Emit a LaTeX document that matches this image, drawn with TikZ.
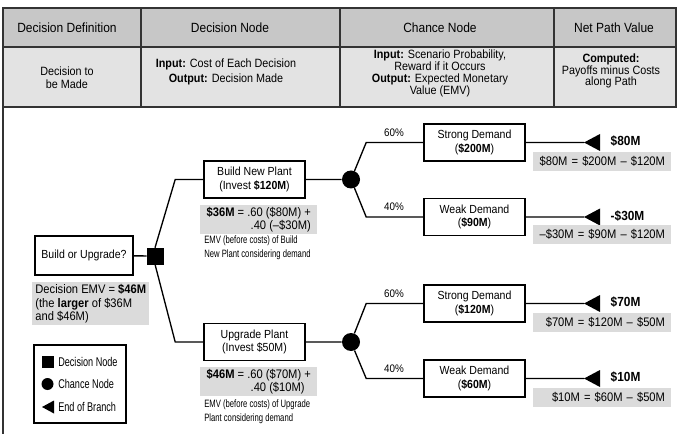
\documentclass[tikz,border=0pt]{standalone}
\usepackage{fontspec}
\setmainfont[FakeStretch=0.9]{Liberation Sans}
\newfontfamily\narrowfont[FakeStretch=0.72]{Liberation Sans}
\usepackage{tikz}
\usetikzlibrary{positioning,calc}
\definecolor{headgray}{gray}{0.78}
\definecolor{rowgray}{gray}{0.89}
\definecolor{boxgray}{gray}{0.86}
\definecolor{rulegray}{gray}{0.2}
\tikzset{
every node/.style={font=\fontsize{8.8}{10.4}\selectfont}, % default text of the tree
headcell/.style={font=\fontsize{10}{12}\selectfont},
infocell/.style={align=center, font=\fontsize{9}{9}\selectfont},
choice/.style={draw, line width=1.2pt, fill=white, minimum width=75.75pt, minimum height=27.75pt, align=center, inner sep=1pt},
decision/.style={draw, fill=black, minimum size=12pt, inner sep=0pt},
chance/.style={circle, fill=black, minimum size=13.5pt, inner sep=0pt},
emv/.style={fill=boxgray, anchor=north west, align=left, inner sep=1.5pt, font=\fontsize{9.3}{10}\selectfont},
payoff/.style={fill=boxgray, text width=94.5pt, align=right, inner xsep=4.5pt, inner ysep=0pt, minimum height=14.25pt, font=\fontsize{9.3}{10}\selectfont},
note/.style={anchor=north west, align=left, inner sep=0pt, font=\narrowfont\fontsize{8}{10.5}\selectfont},
prob/.style={font=\fontsize{8.2}{9}\selectfont},
net/.style={anchor=west, font=\bfseries\fontsize{9.9}{10}\selectfont},
keytext/.style={anchor=west, inner sep=0pt, font=\narrowfont\fontsize{9.5}{10}\selectfont},
tree/.style={line width=1pt},
}

\begin{document}
\begin{tikzpicture}[x=0.75pt, y=-0.75pt]
        \useasboundingbox (0,0) rectangle (677,434);
        % table on top
        \fill[headgray] (3,8) rectangle (676,47);
        \fill[rowgray] (3,47) rectangle (676,107);
        \draw[rulegray, line width=1.3pt] (3,8) rectangle (676,107)
        (3,47) -- (676,47) (141,8) -- (141,107) (340,8) -- (340,107) (554,8) -- (554,107);
        \draw[rulegray, line width=1pt] (3,107) -- (3,434);
        \node[headcell] (h1) at (67,28) {Decision Definition};
        \node[headcell] (h2) at (230,28) {Decision Node};
        \node[headcell] (h3) at (440,28) {Chance Node};
        \node[headcell] (h4) at (614,28) {Net Path Value};
        \node[infocell, font=\fontsize{9}{9.8}\selectfont] (r1) at (67,78) {Decision to\\be Made};
        \node[infocell, font=\fontsize{9}{11.2}\selectfont] (r2) at (226,71.5) {\textbf{Input:} Cost of Each Decision\\\textbf{Output:} Decision Made};
        \node[infocell] (r3) at (440,73) {\textbf{Input:} Scenario Probability,\\Reward if it Occurs\\\textbf{Output:} Expected Monetary\\Value (EMV)};
        \node[infocell, font=\fontsize{9}{8.6}\selectfont] (r4) at (611,71) {\textbf{Computed:}\\Payoffs minus Costs\\along Path};

        % the tree
        \node[choice, minimum width=73.5pt, minimum height=29.25pt] (q) at (84,255.5) {Build or Upgrade?};
        \node[decision] (d) at (155,256) {};
        \node[choice] (b) at (254.5,179.5) {Build New Plant\\(Invest \textbf{\$120M})};
        \node[choice] (u) at (254.5,342) {Upgrade Plant\\(Invest \$50M)};
        \node[chance] (c1) at (351,179.5) {};
        \node[chance] (c2) at (351,342) {};
        \node[choice] (s1) at (474.5,142.5) {Strong Demand\\(\textbf{\$200M})};
        \node[choice] (w1) at (474.5,217) {Weak Demand\\(\textbf{\$90M})};
        \node[choice] (s2) at (474.5,303.5) {Strong Demand\\(\textbf{\$120M})};
        \node[choice] (w2) at (474.5,378.5) {Weak Demand\\(\textbf{\$60M})};
        \coordinate (e1) at (584,142.5);
        \coordinate (e2) at (584,217);
        \coordinate (e3) at (584,303.5);
        \coordinate (e4) at (584,378.5);
        \draw[tree]
        (q) -- (d)
        (d.north) -- ([xshift=-21pt]b.west) -- (b)
        (d.south) -- ([xshift=-21pt]u.west) -- (u)
        (b) -- (c1) (u) -- (c2)
        (c1) -- ([xshift=-42.75pt]s1.west) -- (s1)
        (c1) -- ([xshift=-42.75pt]w1.west) -- (w1)
        (c2) -- ([xshift=-42.75pt]s2.west) -- (s2)
        (c2) -- ([xshift=-42.75pt]w2.west) -- (w2)
        (s1) -- (e1) (w1) -- (e2) (s2) -- (e3) (w2) -- (e4)
        ;
        \foreach \e in {e1,e2,e3,e4}
          \fill (\e) -- +(16,-8.5) -- +(16,8.5) -- cycle;

        \node[prob] (p1) at (394,133) {60\%};
        \node[prob] (p2) at (394,207) {40\%};
        \node[prob] (p3) at (394,294) {60\%};
        \node[prob] (p4) at (394,369) {40\%};

        \node[net] (v1) at (606,141) {\$80M};
        \node[net] (v2) at (606,216) {-\$30M};
        \node[net] (v3) at (606,302) {\$70M};
        \node[net] (v4) at (606,377) {\$10M};
        \node[payoff] (g1) at (602,161.5) {\$80M = \$200M -- \$120M};
        \node[payoff] (g2) at (602,234.5) {--\$30M = \$90M -- \$120M};
        \node[payoff] (g3) at (602,322.5) {\$70M = \$120M -- \$50M};
        \node[payoff] (g4) at (602,397.5) {\$10M = \$60M -- \$50M};

        \node[emv, minimum width=87.75pt, minimum height=21pt] (m1) at (200,205) {\textbf{\$36M} = .60 (\$80M) +\\\hspace*{33pt}.40 (--\$30M)};
        \node[emv, minimum width=87.75pt, minimum height=21pt] (m2) at (200,367) {\textbf{\$46M} = .60 (\$70M) +\\\hspace*{33pt}.40 (\$10M)};
        \node[note] (n1) at (204,236) {EMV (before costs) of Build\\New Plant considering demand};
        \node[note] (n2) at (204,400) {EMV (before costs) of Upgrade\\Plant considering demand};
        \node[emv, minimum width=87.75pt, minimum height=32.25pt] (m0) at (32,282) {Decision EMV = \textbf{\$46M}\\(the \textbf{larger} of \$36M\\and \$46M)};

        % key
        \node[draw, line width=1.2pt, minimum width=69pt, minimum height=58.5pt, anchor=north west] (key) at (33,344) {};
        \node[decision, minimum size=8.25pt] (k1) at (47.5,362) {};
        \node[chance, minimum size=9pt] (k2) at (47.5,384) {};
        \coordinate (k3) at (42,407);
        \fill (k3) -- +(12,-6.5) -- +(12,6.5) -- cycle;
        \node[keytext] (t1) at (58,362) {Decision Node};
        \node[keytext] (t2) at (58,384) {Chance Node};
        \node[keytext] (t3) at (58,407) {End of Branch};
    \end{tikzpicture}
\end{document}
